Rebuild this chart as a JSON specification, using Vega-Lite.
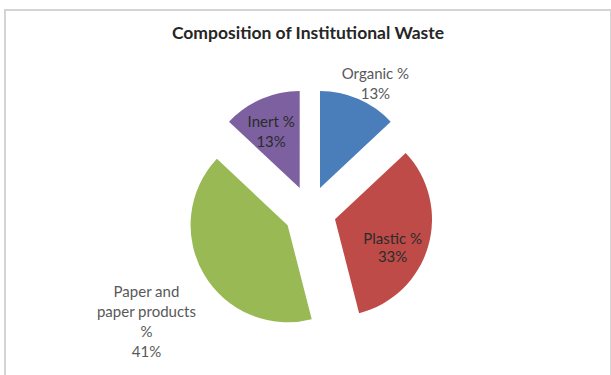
{
  "$schema": "https://vega.github.io/schema/vega-lite/v6.json",
  "autosize": "none",
  "width": 606,
  "height": 370,
  "padding": {"left": 5, "top": 10, "right": 0, "bottom": 0},
  "background": "white",
  "view": {"stroke": "#d4d4d4", "strokeWidth": 2, "fill": "white"},
  "title": {"text": "Composition of Institutional Waste", "font": "Lato", "fontSize": 17.5, "fontWeight": "bold", "color": "#262626", "anchor": "middle", "baseline": "alphabetic", "offset": -46},
  "data": {"values": [
    {"idx": 1, "cat": "Organic %", "value": 13, "label": "Organic %\n13%"},
    {"idx": 2, "cat": "Plastic %", "value": 33, "label": "Plastic %\n33%"},
    {"idx": 3, "cat": "Paper and paper products %", "value": 41, "label": "Paper and\npaper products\n%\n41%"},
    {"idx": 4, "cat": "Inert %", "value": 13, "label": "Inert %\n13%"}
  ]},
  "encoding": {
    "theta": {"field": "value", "type": "quantitative", "stack": true},
    "order": {"field": "idx", "type": "quantitative"},
    "color": {"field": "cat", "type": "nominal", "legend": null, "scale": {"domain": ["Organic %", "Plastic %", "Paper and paper products %", "Inert %"], "range": ["#4a7ebb", "#be4b48", "#98b954", "#7d60a0"]}}
  },
  "layer": [
    {"layer": [
      {"mark": {"type": "arc", "radius": 97, "xOffset": 12, "yOffset": -6.9},
       "encoding": {"opacity": {"condition": {"test": "datum.cat === 'Organic %'", "value": 1}, "value": 0}}},
      {"mark": {"type": "text", "radius": 127, "xOffset": 12, "yOffset": -6.9, "dx": 5, "dy": 2, "font": "Lato", "fontSize": 15, "lineBreak": "\n", "lineHeight": 20, "align": "center", "baseline": "middle"},
       "encoding": {"color": {"value": "#595959"}, "text": {"condition": {"test": "datum.cat === 'Organic %'", "field": "label"}, "value": ""}}}
    ]},
    {"layer": [
      {"mark": {"type": "arc", "radius": 97, "xOffset": 27, "yOffset": 24.3},
       "encoding": {"opacity": {"condition": {"test": "datum.cat === 'Plastic %'", "value": 1}, "value": 0}}},
      {"mark": {"type": "text", "radius": 60, "xOffset": 27, "yOffset": 24.3, "dy": 3, "font": "Lato", "fontSize": 15, "lineBreak": "\n", "lineHeight": 18, "align": "center", "baseline": "middle"},
       "encoding": {"color": {"value": "#2b2b2b"}, "text": {"condition": {"test": "datum.cat === 'Plastic %'", "field": "label"}, "value": ""}}}
    ]},
    {"layer": [
      {"mark": {"type": "arc", "radius": 97, "xOffset": -20.4, "yOffset": 30.2},
       "encoding": {"opacity": {"condition": {"test": "datum.cat === 'Paper and paper products %'", "value": 1}, "value": 0}}},
      {"mark": {"type": "text", "radius": 157, "xOffset": -20.4, "yOffset": 30.2, "dx": -6, "dy": -13, "font": "Lato", "fontSize": 15, "lineBreak": "\n", "lineHeight": 20, "align": "center", "baseline": "middle"},
       "encoding": {"color": {"value": "#595959"}, "text": {"condition": {"test": "datum.cat === 'Paper and paper products %'", "field": "label"}, "value": ""}}}
    ]},
    {"layer": [
      {"mark": {"type": "arc", "radius": 97, "xOffset": -8.3, "yOffset": -6.9},
       "encoding": {"opacity": {"condition": {"test": "datum.cat === 'Inert %'", "value": 1}, "value": 0}}},
      {"mark": {"type": "text", "radius": 72, "xOffset": -8.3, "yOffset": -6.9, "font": "Lato", "fontSize": 15, "lineBreak": "\n", "lineHeight": 20, "align": "center", "baseline": "middle"},
       "encoding": {"color": {"value": "#2b2b2b"}, "text": {"condition": {"test": "datum.cat === 'Inert %'", "field": "label"}, "value": ""}}}
    ]}
  ]
}
